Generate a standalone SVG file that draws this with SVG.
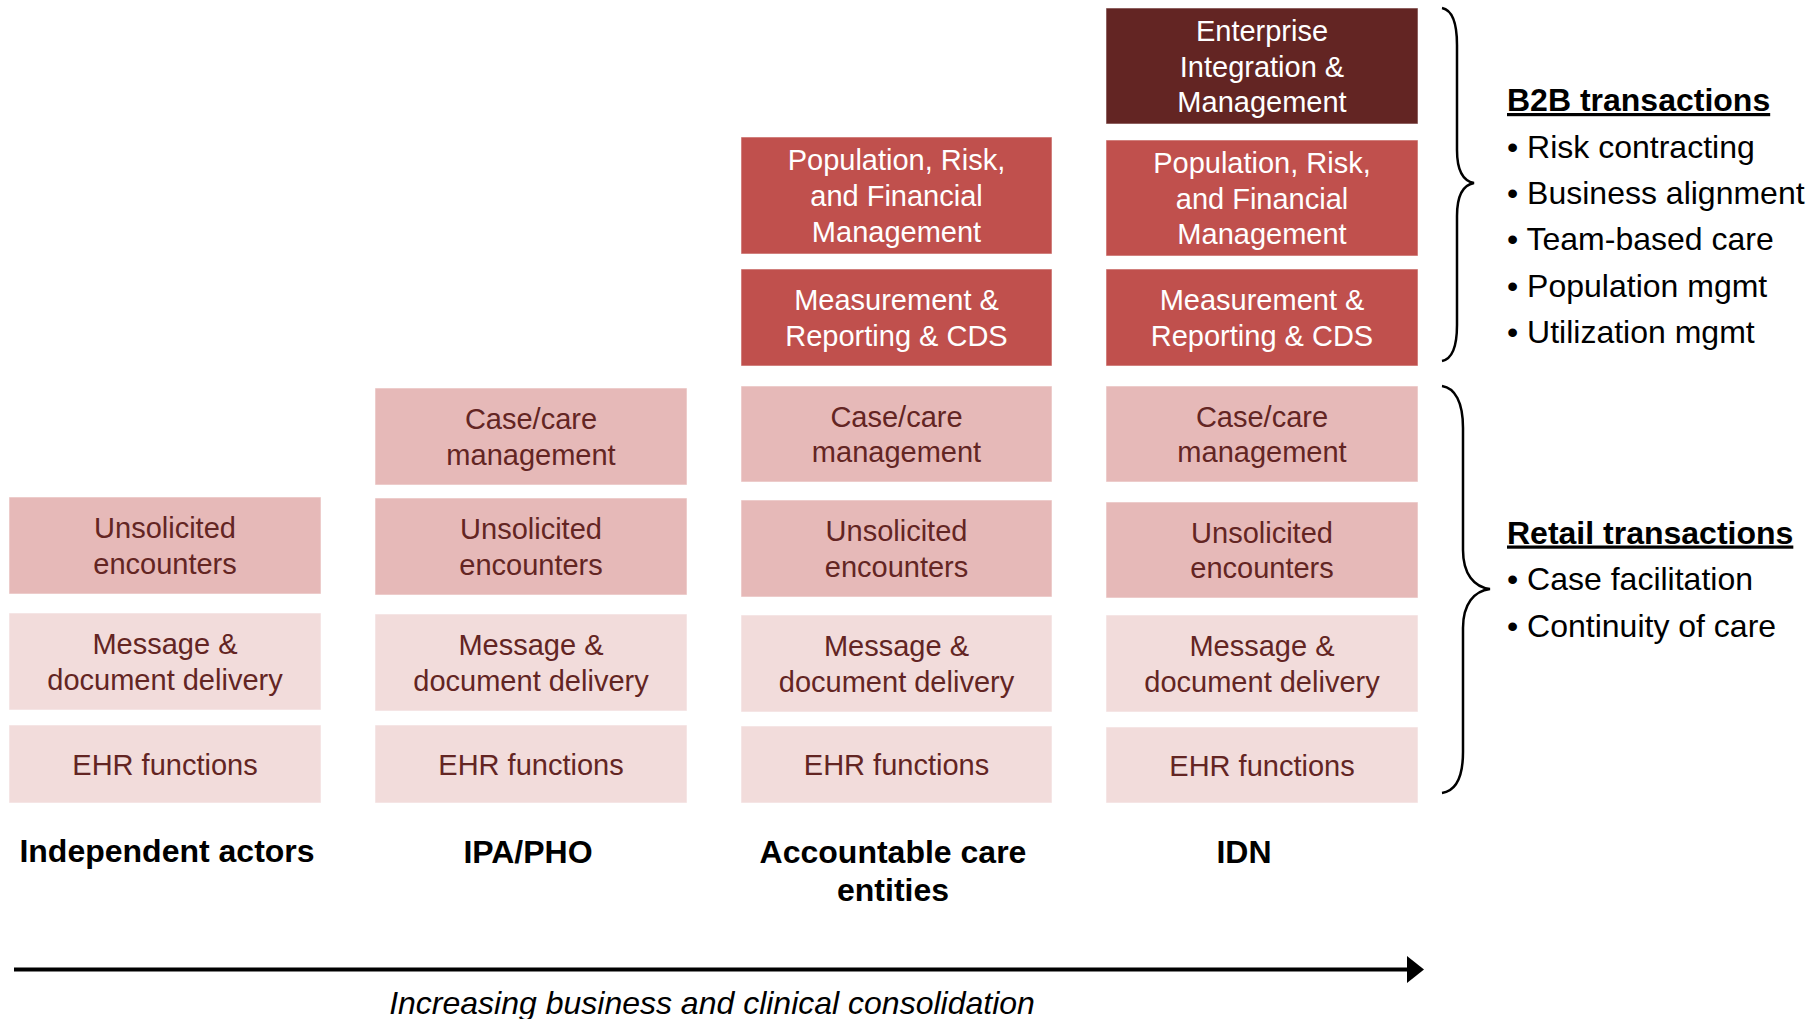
<svg xmlns="http://www.w3.org/2000/svg" width="1820" height="1019" viewBox="0 0 1820 1019">
<style>
  .box { stroke: #ffffff; stroke-opacity: 0.55; stroke-width: 1; }
  .dark { fill: #632523; }
  .mid { fill: #C0504D; }
  .lm { fill: #E6B9B8; }
  .lt { fill: #F2DCDB; }
  .bt { font-family: "Liberation Sans", Arial, sans-serif; font-size: 29px; text-anchor: middle; }
  .wt { fill: #ffffff; }
  .rt { fill: #632523; }
  .lbl { font-family: "Liberation Sans", Arial, sans-serif; font-size: 32px; font-weight: bold; fill: #000; text-anchor: middle; }
  .side { font-family: "Liberation Sans", Arial, sans-serif; font-size: 32px; fill: #000; }
  .hd { font-weight: bold; text-decoration: underline; }
  .brace { fill: none; stroke: #000; stroke-width: 2.5; }
  .axis { stroke: #000; stroke-width: 4; fill: none; }
  .cap { font-family: "Liberation Sans", Arial, sans-serif; font-size: 32px; font-style: italic; fill: #000; text-anchor: middle; }
</style>
<defs>
  <marker id="head" markerUnits="userSpaceOnUse" markerWidth="18" markerHeight="28" refX="1" refY="13.5" orient="auto">
    <path d="M0,0 L17,13.5 L0,27 z" fill="#000"/>
  </marker>
</defs>
<rect width="1820" height="1019" fill="#ffffff"/>

<!-- Column 1: Independent actors -->
<g id="col1-unsolicited"><rect class="box lm" x="9" y="497" width="312" height="97"/>
  <text class="bt rt"><tspan x="165" y="538.2">Unsolicited</tspan><tspan x="165" y="573.8">encounters</tspan></text></g>
<g id="col1-message"><rect class="box lt" x="9" y="613" width="312" height="97"/>
  <text class="bt rt"><tspan x="165" y="654.2">Message &amp;</tspan><tspan x="165" y="689.8">document delivery</tspan></text></g>
<g id="col1-ehr"><rect class="box lt" x="9" y="725" width="312" height="78"/>
  <text class="bt rt" x="165" y="774.5">EHR functions</text></g>
<g id="label-col1"><text class="lbl" x="167" y="862">Independent actors</text></g>

<!-- Column 2: IPA/PHO -->
<g id="col2-case"><rect class="box lm" x="375" y="388" width="312" height="97"/>
  <text class="bt rt"><tspan x="531" y="429.2">Case/care</tspan><tspan x="531" y="464.8">management</tspan></text></g>
<g id="col2-unsolicited"><rect class="box lm" x="375" y="498" width="312" height="97"/>
  <text class="bt rt"><tspan x="531" y="539.2">Unsolicited</tspan><tspan x="531" y="574.8">encounters</tspan></text></g>
<g id="col2-message"><rect class="box lt" x="375" y="614" width="312" height="97"/>
  <text class="bt rt"><tspan x="531" y="655.2">Message &amp;</tspan><tspan x="531" y="690.8">document delivery</tspan></text></g>
<g id="col2-ehr"><rect class="box lt" x="375" y="725" width="312" height="78"/>
  <text class="bt rt" x="531" y="774.5">EHR functions</text></g>
<g id="label-col2"><text class="lbl" x="528" y="863">IPA/PHO</text></g>

<!-- Column 3: Accountable care entities -->
<g id="col3-population"><rect class="box mid" x="741" y="137" width="311" height="117"/>
  <text class="bt wt"><tspan x="896.5" y="170.4">Population, Risk,</tspan><tspan x="896.5" y="206">and Financial</tspan><tspan x="896.5" y="241.6">Management</tspan></text></g>
<g id="col3-measurement"><rect class="box mid" x="741" y="269" width="311" height="97"/>
  <text class="bt wt"><tspan x="896.5" y="310.2">Measurement &amp;</tspan><tspan x="896.5" y="345.8">Reporting &amp; CDS</tspan></text></g>
<g id="col3-case"><rect class="box lm" x="741" y="386" width="311" height="96"/>
  <text class="bt rt"><tspan x="896.5" y="426.7">Case/care</tspan><tspan x="896.5" y="462.3">management</tspan></text></g>
<g id="col3-unsolicited"><rect class="box lm" x="741" y="500" width="311" height="97"/>
  <text class="bt rt"><tspan x="896.5" y="541.2">Unsolicited</tspan><tspan x="896.5" y="576.8">encounters</tspan></text></g>
<g id="col3-message"><rect class="box lt" x="741" y="615" width="311" height="97"/>
  <text class="bt rt"><tspan x="896.5" y="656.2">Message &amp;</tspan><tspan x="896.5" y="691.8">document delivery</tspan></text></g>
<g id="col3-ehr"><rect class="box lt" x="741" y="726" width="311" height="77"/>
  <text class="bt rt" x="896.5" y="775">EHR functions</text></g>
<g id="label-col3"><text class="lbl"><tspan x="893" y="863">Accountable care</tspan><tspan x="893" y="901">entities</tspan></text></g>

<!-- Column 4: IDN -->
<g id="col4-enterprise"><rect class="box dark" x="1106" y="8" width="312" height="116"/>
  <text class="bt wt"><tspan x="1262" y="40.9">Enterprise</tspan><tspan x="1262" y="76.5">Integration &amp;</tspan><tspan x="1262" y="112.1">Management</tspan></text></g>
<g id="col4-population"><rect class="box mid" x="1106" y="140" width="312" height="116"/>
  <text class="bt wt"><tspan x="1262" y="172.9">Population, Risk,</tspan><tspan x="1262" y="208.5">and Financial</tspan><tspan x="1262" y="244.1">Management</tspan></text></g>
<g id="col4-measurement"><rect class="box mid" x="1106" y="269" width="312" height="97"/>
  <text class="bt wt"><tspan x="1262" y="310.2">Measurement &amp;</tspan><tspan x="1262" y="345.8">Reporting &amp; CDS</tspan></text></g>
<g id="col4-case"><rect class="box lm" x="1106" y="386" width="312" height="96"/>
  <text class="bt rt"><tspan x="1262" y="426.7">Case/care</tspan><tspan x="1262" y="462.3">management</tspan></text></g>
<g id="col4-unsolicited"><rect class="box lm" x="1106" y="502" width="312" height="96"/>
  <text class="bt rt"><tspan x="1262" y="542.7">Unsolicited</tspan><tspan x="1262" y="578.3">encounters</tspan></text></g>
<g id="col4-message"><rect class="box lt" x="1106" y="615" width="312" height="97"/>
  <text class="bt rt"><tspan x="1262" y="656.2">Message &amp;</tspan><tspan x="1262" y="691.8">document delivery</tspan></text></g>
<g id="col4-ehr"><rect class="box lt" x="1106" y="727" width="312" height="76"/>
  <text class="bt rt" x="1262" y="775.5">EHR functions</text></g>
<g id="label-col4"><text class="lbl" x="1244" y="863">IDN</text></g>

<!-- Braces -->
<g id="brace-b2b">
  <path class="brace" d="M1442,8 C1452,10 1457,22 1457,45 L1457,150 C1457,170 1463,181 1474,183 C1463,185 1457,196 1457,216 L1457,325 C1457,348 1452,359 1442,361"/>
</g>
<g id="brace-retail">
  <path class="brace" d="M1442,386 C1455,388 1463,402 1463,428 L1463,550 C1463,574 1474,587 1490,589 C1474,591 1463,604 1463,628 L1463,752 C1463,778 1455,791 1442,793"/>
</g>

<!-- Side text -->
<g id="b2b-text">
  <text class="side hd" x="1507" y="111">B2B transactions</text>
  <text class="side" x="1507" y="157.5">• Risk contracting</text>
  <text class="side" x="1507" y="203.9">• Business alignment</text>
  <text class="side" x="1507" y="250.3">• Team-based care</text>
  <text class="side" x="1507" y="296.7">• Population mgmt</text>
  <text class="side" x="1507" y="343.1">• Utilization mgmt</text>
</g>
<g id="retail-text">
  <text class="side hd" x="1507" y="543.5">Retail transactions</text>
  <text class="side" x="1507" y="590">• Case facilitation</text>
  <text class="side" x="1507" y="636.5">• Continuity of care</text>
</g>

<!-- Connectors -->
<g id="connectors">
  <line class="axis" x1="14" y1="969.5" x2="1408" y2="969.5" marker-end="url(#head)"/>
</g>
<g id="axis-caption"><text class="cap" x="712" y="1014">Increasing business and clinical consolidation</text></g>
</svg>
